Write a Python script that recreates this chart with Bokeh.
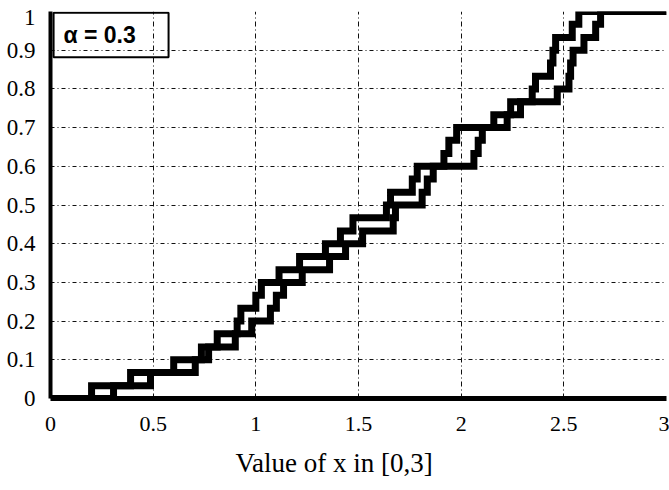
from bokeh.plotting import figure
from bokeh.models import FixedTicker, BoxAnnotation, Label, Range1d, Title
from bokeh.embed import file_html
from bokeh.resources import INLINE

# ---- data ----
# cumulative probability levels of the empirical CDFs (30 samples)
cdf_levels = [0.0, 0.033, 0.067, 0.1, 0.133, 0.167, 0.2, 0.233, 0.267, 0.3,
              0.333, 0.367, 0.4, 0.433, 0.467, 0.5, 0.533, 0.567, 0.6, 0.633,
              0.667, 0.7, 0.733, 0.767, 0.8, 0.833, 0.867, 0.9, 0.933, 0.967,
              1.0, 1.0]
# jump positions of curve A (left / upper) and curve B (right / lower)
x_curve_a = [0.0, 0.20, 0.39, 0.60, 0.735, 0.812, 0.909, 0.927, 1.00, 1.027,
             1.113, 1.213, 1.339, 1.412, 1.473, 1.636, 1.656, 1.762, 1.786,
             1.916, 1.940, 1.978, 2.159, 2.241, 2.346, 2.362, 2.435, 2.447,
             2.460, 2.541, 2.573, 3.0]
x_curve_b = [0.0, 0.307, 0.487, 0.705, 0.77, 0.90, 0.98, 1.071, 1.10, 1.135,
             1.226, 1.359, 1.437, 1.520, 1.669, 1.680, 1.810, 1.835, 1.864,
             2.062, 2.083, 2.103, 2.224, 2.289, 2.468, 2.525, 2.533, 2.545,
             2.598, 2.655, 2.679, 3.0]

x_ticks = [0, 0.5, 1, 1.5, 2, 2.5, 3]
x_tick_labels = ["0", "0.5", "1", "1.5", "2", "2.5", "3"]
y_ticks = [0, 0.1, 0.2, 0.3, 0.4, 0.5, 0.6, 0.7, 0.8, 0.9, 1]
y_tick_labels = ["0", "0.1", "0.2", "0.3", "0.4", "0.5", "0.6", "0.7", "0.8", "0.9", "1"]
x_label = "Value of x in [0,3]"
legend_text = "\u03b1 = 0.3"

# ---- figure ----
p = figure(width=669, height=490, output_backend="svg", toolbar_location=None,
           x_range=Range1d(0, 3), y_range=Range1d(0, 1),
           min_border_left=50, min_border_right=3, min_border_top=11,
           min_border_bottom=90)
p.outline_line_color = None
p.background_fill_color = "white"
p.border_fill_color = "white"

serif = "Liberation Serif"

# axes: the top label "1" sits a little below the top edge in the reference,
# so its label position is nudged down while the grid keeps the real ticks
y_label_pos = y_ticks[:-1] + [y_ticks[-1] - 0.015]
p.xaxis.ticker = FixedTicker(ticks=x_ticks)
p.yaxis.ticker = FixedTicker(ticks=y_label_pos)
p.xgrid.ticker = FixedTicker(ticks=x_ticks)
p.ygrid.ticker = FixedTicker(ticks=y_ticks)
p.xaxis.major_label_overrides = {t: l for t, l in zip(x_ticks, x_tick_labels)}
p.yaxis.major_label_overrides = {t: l for t, l in zip(y_label_pos, y_tick_labels)}

p.axis.axis_line_color = "black"
p.axis.major_tick_line_color = None
p.axis.minor_tick_line_color = None
p.axis.major_label_text_font = serif
p.axis.major_label_text_color = "black"
p.xaxis.major_label_text_font_size = "22px"
p.yaxis.major_label_text_font_size = "23px"
p.xaxis.axis_line_width = 5
p.yaxis.axis_line_width = 4
p.xaxis.major_label_standoff = 12
p.yaxis.major_label_standoff = 9

# x axis title (sits left of centre in the reference)
xt = Title(text=x_label, align="left", offset=185, text_font=serif,
           text_font_style="normal", text_font_size="27px", text_color="black",
           standoff=25)
p.add_layout(xt, "below")

# grid
p.xgrid.grid_line_color = "#111111"
p.xgrid.grid_line_width = 1
p.xgrid.grid_line_dash = "5 3 1 3"
p.ygrid.grid_line_color = "#111111"
p.ygrid.grid_line_width = 1
p.ygrid.grid_line_dash = "4 3 1 3"

# step curves
p.step(x=x_curve_a, y=cdf_levels, mode="after", line_width=7,
       line_color="black", line_join="miter")
p.step(x=x_curve_b, y=cdf_levels, mode="after", line_width=7,
       line_color="black", line_join="miter")

# legend box
box = BoxAnnotation(left=0.015, right=0.575, bottom=0.882, top=0.997,
                    fill_color=None, fill_alpha=0, line_color="black",
                    line_alpha=1.0, line_width=2)
p.add_layout(box)
lab = Label(x=0.063, y=0.938, text=legend_text, text_font="Liberation Sans",
            text_font_style="bold", text_font_size="23px", text_color="black",
            text_baseline="alphabetic", text_align="left")
p.add_layout(lab)

open("out.html", "w").write(file_html(p, INLINE))
